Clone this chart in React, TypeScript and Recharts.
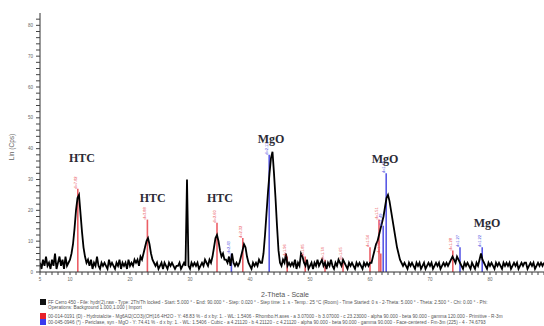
import React from "react";
import {
  ComposedChart,
  Line,
  XAxis,
  YAxis,
  ReferenceLine,
  ReferenceDot,
} from "recharts";

// scan: 5° to 89° 2-theta, 0.25° step
const SCAN_START = 5;
const SCAN_STEP = 0.25;

// intensity (Lin Cps), one row per degree
const COUNTS = [
  3, 1, 4, 2, // 5
  5, 2, 3, 1,
  4, 2, 6, 1,
  3, 5, 2, 4,
  1, 5, 2, 3,
  4, 6, 9, 14, // 10
  20, 24, 25, 19,
  13, 8, 5, 3,
  4, 2, 4, 1,
  3, 2, 5, 2,
  1, 3, 2, 3, // 15
  2, 1, 4, 2,
  3, 2, 1, 3,
  2, 4, 1, 3,
  2, 3, 1, 4,
  2, 3, 2, 4, // 20
  3, 4, 2, 5,
  4, 6, 8, 10,
  11, 9, 6, 4,
  3, 2, 3, 1,
  2, 3, 1, 3, // 25
  2, 1, 3, 2,
  3, 2, 1, 2,
  2, 3, 1, 2,
  3, 2, 30, 2,
  1, 3, 2, 3, // 30
  2, 3, 1, 2,
  3, 2, 4, 3,
  2, 4, 3, 5,
  8, 11, 12, 10,
  7, 5, 6, 4, // 35
  4, 3, 5, 2,
  6, 3, 2, 3,
  2, 3, 5, 7,
  9, 8, 5, 3,
  2, 1, 3, 2, // 40
  3, 2, 4, 3,
  3, 6, 12, 19,
  26, 32, 37, 39,
  32, 24, 15, 7,
  3, 2, 4, 3, // 45
  6, 2, 3, 2,
  3, 2, 4, 1,
  3, 2, 6, 5,
  3, 2, 4, 1,
  2, 3, 1, 3, // 50
  2, 4, 2, 3,
  4, 2, 3, 1,
  3, 2, 4, 2,
  1, 3, 2, 4,
  3, 2, 4, 3, // 55
  2, 1, 3, 2,
  3, 2, 1, 3,
  2, 3, 2, 1,
  3, 2, 3, 2,
  3, 3, 5, 7, // 60
  9, 10, 12, 14,
  16, 18, 21, 24,
  25, 23, 20, 17,
  14, 11, 8, 6,
  4, 3, 2, 3, // 65
  2, 1, 3, 2,
  3, 2, 1, 3,
  2, 3, 1, 2,
  3, 1, 2, 3,
  2, 3, 1, 2, // 70
  3, 2, 3, 1,
  2, 3, 2, 3,
  2, 3, 4, 5,
  4, 3, 5, 4,
  3, 2, 1, 3, // 75
  2, 3, 2, 1,
  3, 2, 1, 3,
  2, 4, 6, 4,
  3, 2, 1, 3,
  2, 3, 2, 1, // 80
  3, 2, 3, 2,
  1, 3, 2, 3,
  2, 3, 1, 2,
  3, 2, 3, 1,
  2, 3, 2, 3, // 85
  3, 1, 2, 3,
  2, 3, 1, 2,
  3, 2, 3, 2,
  3, // 89
];

// reference patterns (2-theta, stick height, d label)
const HTC_ANGLES = [11.3, 22.9, 34.5, 38.8, 46.2, 49.2, 52.5, 55.5, 60.0, 61.5, 61.8, 73.8];
const HTC_HEIGHTS = [27, 17, 16, 11, 5, 5, 4, 4, 8, 17, 6, 7];
const HTC_D = ["7.82", "3.88", "2.60", "2.32", "1.96", "1.85", "1.74", "1.65", "1.54", "1.51", "1.50", "1.28"];

const MGO_ANGLES = [36.9, 43.2, 62.2, 62.7, 75.0, 78.7];
const MGO_HEIGHTS = [6, 38, 15, 32, 8, 8];
const MGO_D = ["2.43", "2.11", "1.49", "1.49", "1.27", "1.22"];

const PEAK_NAMES = ["HTC", "HTC", "HTC", "MgO", "MgO", "MgO"];
const PEAK_NAME_X = [12, 23.8, 35, 43.5, 62.5, 79.5];
const PEAK_NAME_Y = [37, 24, 24, 43, 36.5, 16];

const X_TICK_LABELS = [5, 10, 20, 30, 40, 50, 60, 70, 80];
const Y_TICK_LABELS = [0, 10, 20, 30, 40, 50, 60, 70, 80];

const LEGEND_LINES = [
  "FF Cerro 450 - File: hydr(2).raw - Type: 2Th/Th locked - Start: 5.000 ° - End: 90.000 ° - Step: 0.020 ° - Step time: 1. s - Temp.: 25 °C (Room) - Time Started: 0 s - 2-Theta: 5.000 ° - Theta: 2.500 ° - Chi: 0.00 ° - Phi:",
  "Operations: Background 1.000,1.000 | Import",
  "00-014-0191 (D) - Hydrotalcite - Mg6Al2(CO3)(OH)16·4H2O - Y: 48.83 % - d x by: 1. - WL: 1.5406 - Rhombo.H.axes - a 3.07000 - b 3.07000 - c 23.23000 - alpha 90.000 - beta 90.000 - gamma 120.000 - Primitive - R-3m",
  "00-045-0946 (*) - Periclase, syn - MgO - Y: 74.41 % - d x by: 1. - WL: 1.5406 - Cubic - a 4.21120 - b 4.21120 - c 4.21120 - alpha 90.000 - beta 90.000 - gamma 90.000 - Face-centered - Fm-3m (225) - 4 - 74.6793",
];
const LEGEND_COLORS = ["#111111", null, "#e8202a", "#3a3aee"];

const RED = "#e8424a";
const BLUE = "#3c3ce0";

const scan = COUNTS.map((c, i) => ({ angle: SCAN_START + i * SCAN_STEP, counts: c }));

const xTicks: number[] = [];
for (let a = 5; a <= 89; a++) xTicks.push(a);
const yTicks: number[] = [];
for (let v = 0; v <= 82; v += 2) yTicks.push(v);

const tickFont = { fontSize: 4.5, fill: "#666", fontFamily: "Arial, Liberation Sans, sans-serif" };

const XTick = (props: any) => {
  const { x, y, payload } = props;
  if (!X_TICK_LABELS.includes(payload.value)) return null;
  return (
    <text x={x} y={y + 4} textAnchor="middle" {...tickFont}>
      {payload.value}
    </text>
  );
};

const YTick = (props: any) => {
  const { x, y, payload } = props;
  if (!Y_TICK_LABELS.includes(payload.value)) return null;
  return (
    <text x={x} y={y + 1.5} textAnchor="end" {...tickFont}>
      {payload.value}
    </text>
  );
};

const stickLabel = (text: string, color: string) => (props: any) => {
  const { cx, cy } = props;
  if (cx == null || cy == null) return <g />;
  return (
    <text
      x={cx - 1}
      y={cy}
      transform={`rotate(-90 ${cx - 1} ${cy})`}
      fontSize={4}
      fill={color}
      fontFamily="Arial, sans-serif"
    >
      {"d=" + text}
    </text>
  );
};

const peakName = (text: string) => (props: any) => {
  const { cx, cy } = props;
  if (cx == null || cy == null) return <g />;
  return (
    <text
      x={cx}
      y={cy + 4}
      textAnchor="middle"
      fontSize={12}
      fontWeight="bold"
      fill="#2b2b35"
      fontFamily="Liberation Serif, DejaVu Serif, serif"
    >
      {text}
    </text>
  );
};

export default function App() {
  return (
    <div style={{ position: "absolute", left: 0, top: 0, width: 544, height: 326, background: "#fff" }}>
      <ComposedChart
        width={544}
        height={326}
        data={scan}
        margin={{ top: 13, right: 0, bottom: 34, left: 0 }}
      >
        <XAxis
          type="number"
          dataKey="angle"
          domain={[5, 89]}
          ticks={xTicks}
          interval={0}
          tick={<XTick />}
          tickSize={3}
          tickLine={{ stroke: "#444" }}
          axisLine={{ stroke: "#333" }}
          height={20}
          allowDataOverflow
        />
        <YAxis
          type="number"
          domain={[0, 84]}
          ticks={yTicks}
          interval={0}
          tick={<YTick />}
          tickSize={4}
          tickMargin={3}
          tickLine={{ stroke: "#444" }}
          axisLine={{ stroke: "#333" }}
          width={40}
          allowDataOverflow
        />
        {HTC_ANGLES.map((a, i) => (
          <ReferenceLine
            key={"h" + i}
            segment={[{ x: a, y: 0 }, { x: a, y: HTC_HEIGHTS[i] }]}
            stroke={RED}
            strokeWidth={1.6}
            strokeOpacity={0.85}
          />
        ))}
        {MGO_ANGLES.map((a, i) => (
          <ReferenceLine
            key={"m" + i}
            segment={[{ x: a, y: 0 }, { x: a, y: MGO_HEIGHTS[i] }]}
            stroke={BLUE}
            strokeWidth={1.6}
            strokeOpacity={0.85}
          />
        ))}
        <Line
          type="linear"
          dataKey="counts"
          stroke="#000"
          strokeWidth={1.8}
          dot={false}
          isAnimationActive={false}
        />
        {HTC_ANGLES.map((a, i) => (
          <ReferenceDot
            key={"hl" + i}
            x={a}
            y={HTC_HEIGHTS[i]}
            r={0}
            shape={stickLabel(HTC_D[i], RED)}
          />
        ))}
        {MGO_ANGLES.map((a, i) => (
          <ReferenceDot
            key={"ml" + i}
            x={a}
            y={MGO_HEIGHTS[i]}
            r={0}
            shape={stickLabel(MGO_D[i], BLUE)}
          />
        ))}
        {PEAK_NAMES.map((n, i) => (
          <ReferenceDot
            key={"p" + i}
            x={PEAK_NAME_X[i]}
            y={PEAK_NAME_Y[i]}
            r={0}
            shape={peakName(n)}
          />
        ))}
      </ComposedChart>
      <svg
        width={544}
        height={326}
        style={{ position: "absolute", left: 0, top: 0, pointerEvents: "none" }}
      >
        <text
          x={14}
          y={147}
          transform="rotate(-90 14 147)"
          textAnchor="middle"
          fontSize={6.5}
          fill="#666"
          fontFamily="Arial, Liberation Sans, sans-serif"
        >
          Lin (Cps)
        </text>
        <text
          x={285}
          y={297}
          textAnchor="middle"
          fontSize={7}
          fill="#555"
          fontFamily="Arial, Liberation Sans, sans-serif"
        >
          2-Theta - Scale
        </text>
        {LEGEND_LINES.map((line, i) => {
          const rowY = [303.5, 309, 317.5, 323.5][i];
          const color = LEGEND_COLORS[i];
          return (
            <g key={i}>
              {color && <rect x={40} y={rowY - 4.5} width={6} height={6} fill={color} />}
              <text
                x={48}
                y={rowY}
                fontSize={4.7}
                fill="#555"
                fontFamily="Arial, Liberation Sans, sans-serif"
              >
                {line}
              </text>
            </g>
          );
        })}
      </svg>
    </div>
  );
}
